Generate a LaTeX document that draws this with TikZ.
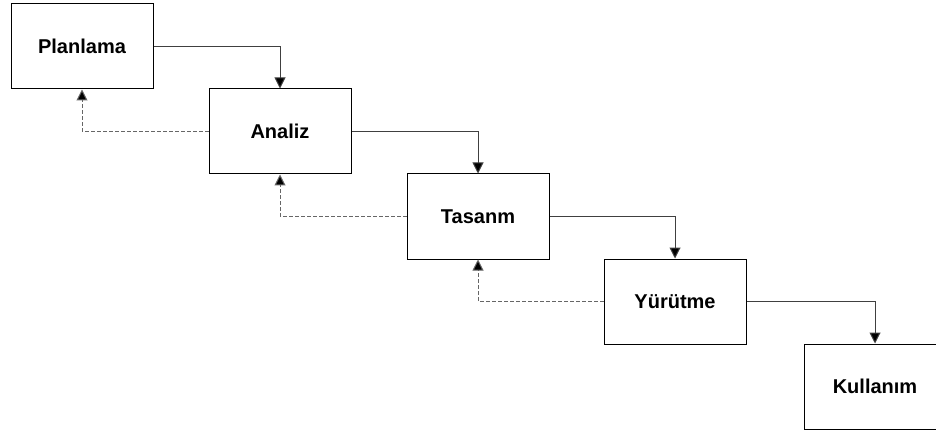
\documentclass[tikz,border=0pt]{standalone}
\usepackage{fontspec}
\setmainfont{Liberation Sans}
\usetikzlibrary{arrows.meta}
\begin{document}
\begin{tikzpicture}[x=1pt,y=-1pt,
  phase/.style={draw=black, line width=1pt, fill=white, minimum width=142pt, minimum height=85pt,
    inner sep=0pt, font=\fontsize{20}{24}\selectfont\bfseries},
  flow/.style={draw=black!75, line width=1pt, -{Triangle[length=11pt,width=11pt,fill=black]}},
  back/.style={draw=black!60, line width=1pt, dash pattern=on 4pt off 2pt,
    -{Triangle[length=11pt,width=11pt,fill=black]}}]
  \useasboundingbox (0,0) rectangle (936,430);
  % five phases, stepping down and to the right
  \node[phase] (p1) at (82,46.5)  {Planlama};
  \node[phase] (p2) at (280,131.5) {Analiz};
  \node[phase] (p3) at (478,216.5) {Tasanm};
  \node[phase] (p4) at (675,301.5) {Yürütme};
  \node[phase] (p5) at (875,386.5) {Kullanım};
  % forward transitions
  \draw[flow] (p1.east) -| (p2.north);
  \draw[flow] (p2.east) -| (p3.north);
  \draw[flow] (p3.east) -| (p4.north);
  \draw[flow] (p4.east) -| (p5.north);
  % feedback to the previous phase
  \draw[back] (p2.west) -| (p1.south);
  \draw[back] (p3.west) -| (p2.south);
  \draw[back] (p4.west) -| (p3.south);
\end{tikzpicture}
\end{document}
